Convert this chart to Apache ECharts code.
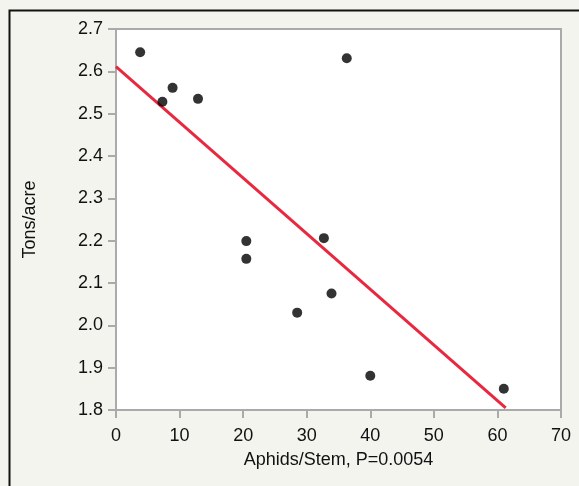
<!DOCTYPE html>
<html><head><meta charset="utf-8">
<script src="https://cdn.jsdelivr.net/npm/echarts@6/dist/echarts.min.js"></script>
<style>html,body{margin:0;padding:0;background:#f4f4ef;}#c{width:579px;height:486px;}</style>
</head><body><div id="c"></div>
<script>
const aphids = [3.8, 7.3, 8.9, 12.9, 36.3, 20.5, 20.5, 32.7, 33.9, 28.5, 40.0, 61.0];
const tons   = [2.645, 2.528, 2.561, 2.535, 2.631, 2.199, 2.157, 2.206, 2.075, 2.030, 1.881, 1.850];
const fitX = [0, 61.3];
const fitY = [2.611, 1.805];
const xTicks = [0, 10, 20, 30, 40, 50, 60, 70];
const yTicks = [1.8, 1.9, 2.0, 2.1, 2.2, 2.3, 2.4, 2.5, 2.6, 2.7];

const chart = echarts.init(document.getElementById('c'), null, {renderer: 'canvas'});
const font = 'Liberation Sans, Arial, sans-serif';
chart.setOption({
  backgroundColor: '#f4f4ef',
  animation: false,
  graphic: [{
    type: 'rect', left: 7, top: 8, z: -10,
    shape: {width: 620, height: 520},
    style: {fill: 'none', stroke: '#111', lineWidth: 2}
  }],
  grid: {left: 116, top: 29, right: 18, bottom: 76, show: true, backgroundColor: '#fff', borderColor: '#aaa', borderWidth: 2},
  xAxis: {
    type: 'value', min: 0, max: 70, interval: 10,
    name: 'Aphids/Stem, P=0.0054', nameLocation: 'middle', nameGap: 41,
    nameTextStyle: {fontFamily: font, fontSize: 18, color: '#111'},
    axisLine: {show: true, lineStyle: {color: '#aaa', width: 2}},
    axisTick: {show: true, length: 8, lineStyle: {color: '#aaa', width: 2}},
    axisLabel: {fontFamily: font, fontSize: 18, color: '#111', margin: 17,
      formatter: v => xTicks.includes(v) ? String(v) : ''},
    splitLine: {show: false}
  },
  yAxis: {
    type: 'value', min: 1.8, max: 2.7, interval: 0.1,
    name: 'Tons/acre', nameLocation: 'middle', nameGap: 77, nameRotate: 90,
    nameTextStyle: {fontFamily: font, fontSize: 18, color: '#111'},
    axisLine: {show: true, lineStyle: {color: '#aaa', width: 2}},
    axisTick: {show: true, length: 8, lineStyle: {color: '#aaa', width: 2}},
    axisLabel: {fontFamily: font, fontSize: 18, color: '#111', margin: 13,
      formatter: v => { const t = yTicks.find(y => Math.abs(y - v) < 1e-6); return t === undefined ? '' : t.toFixed(1); }},
    splitLine: {show: false}
  },
  series: [{
    type: 'line', data: fitX.map((x, i) => [x, fitY[i]]),
    showSymbol: false, symbol: 'none',
    lineStyle: {color: '#e8283f', width: 3}, z: 2
  }, {
    type: 'scatter', data: aphids.map((x, i) => [x, tons[i]]),
    symbol: 'circle', symbolSize: 10,
    itemStyle: {color: '#000'}, z: 3
  }]
});
</script></body></html>
